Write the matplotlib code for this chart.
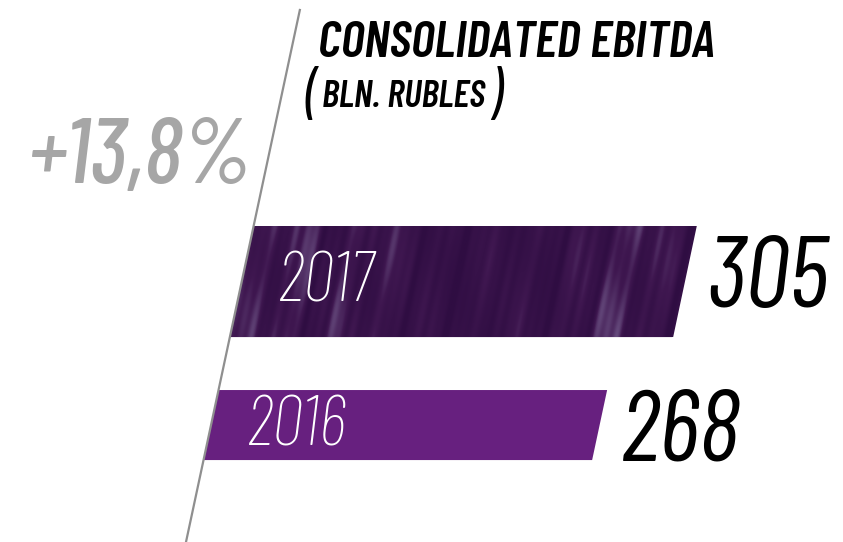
import numpy as np
import matplotlib
matplotlib.use('Agg')
import matplotlib.pyplot as plt
from matplotlib.transforms import Affine2D
from matplotlib.colors import LinearSegmentedColormap

# ---------------- data ----------------
years = ['2016', '2017']
values = [268, 305]
growth_label = '+13,8%'
title_text = 'CONSOLIDATED EBITDA'
unit_text = 'BLN. RUBLES'

# ---------------- style ----------------
W, H = 843, 542
COND = ['Barlow Condensed', 'DejaVu Sans']

bar_colors = ['#67207f', '#3f1750']
positions = [0, 1]
bar_heights = [0.488, 0.774]
value_dy = [-0.245, -0.18]
slope = 0.214          # horizontal shift per vertical pixel of the slanted baseline
base_px = 186          # baseline x (pixels) at the bottom of the figure
px_per_unit = 1.45

fig = plt.figure(figsize=(W / 100, H / 100), dpi=100)
ax = fig.add_axes([0, 0, 1, 1])
ax.axis('off')

skew = ax.transData + Affine2D().skew(np.arctan(slope), 0)

# bars
patches = ax.barh(positions, values, height=bar_heights, left=0,
                  color=bar_colors, transform=skew, zorder=2)

# texture on the 2017 bar (decorative streaks)
xs = np.linspace(0, 1, 700)
env = 0.45 + 0.55 * (np.exp(-((xs - 0.15) / 0.18) ** 2)
                     + np.exp(-((xs - 0.85) / 0.12) ** 2))
stripe = (0.5 + 0.25 * np.sin(xs * 61) + 0.18 * np.sin(xs * 137 + 1.3)
          + 0.12 * np.sin(xs * 251 + 2.1) + 0.1 * np.sin(xs * 23 + 0.4))
tex = np.clip(stripe * env, 0, 1)
ys = np.linspace(0, 1, 80)[:, None]
img = np.clip(tex[None, :] * (0.8 + 0.2 * np.sin(ys * 5 + xs[None, :] * 31)), 0, 1)
cmap = LinearSegmentedColormap.from_list('tex', ['#2f0d42', '#3f1750', '#654a7c'])
p17 = patches[1]
im = ax.imshow(img, cmap=cmap, aspect='auto', interpolation='bilinear',
               extent=[0, values[1], positions[1] - bar_heights[1] / 2,
                       positions[1] + bar_heights[1] / 2],
               origin='lower', transform=skew, zorder=2.5)
im.set_clip_path(p17)

# slanted axis line
ax.plot([0, 0], [-0.82, 2.9], color='#8f8f8f', lw=1.6, transform=skew,
        zorder=3, solid_capstyle='butt')

ax.set_xlim(-base_px / px_per_unit, (W - base_px) / px_per_unit)
ax.set_ylim(-0.815, 2.962)

# year labels inside bars
for pos, yr in zip(positions, years):
    ax.text(27, pos - 0.14, yr, transform=skew, color='white', fontsize=51,
            family=COND, style='italic', weight='light', ha='left',
            va='baseline', zorder=4)

# value labels
for pos, v, dy in zip(positions, values, value_dy):
    ax.text(v + 19, pos + dy, str(v), transform=skew, color='black',
            fontsize=72, family=COND, style='italic', weight='normal',
            ha='left', va='baseline', zorder=4)

def ftext(x, y, s, **kw):
    fig.text(x / W, 1 - y / H, s, **kw)

ftext(318, 57, title_text, fontsize=37, family=COND, weight='semibold',
      style='italic', ha='left', va='baseline', color='black')
ftext(304, 114, '(', fontsize=44, family=COND, weight='normal',
      style='italic', ha='left', va='baseline', color='black')
ftext(322, 107, unit_text, fontsize=27, family=COND, weight='semibold',
      style='italic', ha='left', va='baseline', color='black')
ftext(488, 114, ')', fontsize=44, family=COND, weight='normal',
      style='italic', ha='left', va='baseline', color='black')
ftext(27, 183, growth_label, fontsize=66, family=COND, style='italic',
      weight='medium', ha='left', va='baseline', color='#a6a6a6')

fig.savefig('out.png', dpi=100)
